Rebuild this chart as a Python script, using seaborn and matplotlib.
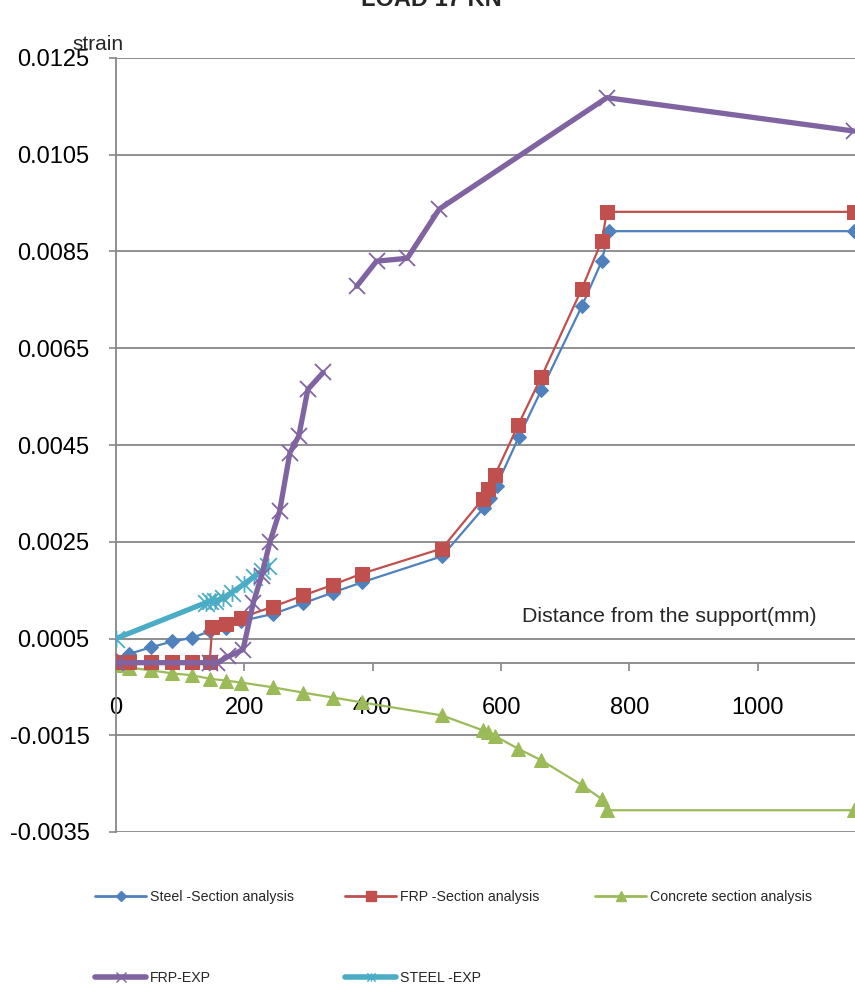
import numpy as np
import pandas as pd
import matplotlib
matplotlib.use("Agg")
import matplotlib.pyplot as plt
import seaborn as sns
from matplotlib.lines import Line2D
from matplotlib.path import Path

# ---------------- data ----------------
steel_x = [0, 20, 55, 88, 118, 146, 171, 195, 245, 292, 338, 383,
           508, 573, 583, 593, 628, 663, 726, 757, 768, 1150]
steel_y = [0.00005, 0.00018, 0.00032, 0.00044, 0.00051, 0.00065, 0.00072, 0.00086,
           0.00101, 0.00123, 0.00145, 0.00166,
           0.0022, 0.0032, 0.0034, 0.00366, 0.00467, 0.00564, 0.00737, 0.0083, 0.00892, 0.00892]

frp_x = [0, 20, 55, 88, 118, 146, 150, 171, 195, 245, 292, 338, 383,
         508, 572, 580, 591, 627, 663, 726, 757, 765, 1150]
frp_y = [0.00002, 0.00002, 0.00002, 0.00002, 0.00002, 0.00002,
         0.00073, 0.00081, 0.00093, 0.00116, 0.00139, 0.00161, 0.00184,
         0.00236, 0.00339, 0.0036, 0.00389, 0.00492, 0.00591, 0.00773, 0.00872, 0.00932, 0.00932]

conc_x = [0, 20, 55, 88, 118, 146, 171, 195, 245, 292, 338, 383,
          508, 572, 580, 591, 627, 663, 726, 757, 765, 1150]
conc_y = [-0.00004, -0.0001, -0.00016, -0.00022, -0.00026, -0.00033, -0.00037, -0.00041,
          -0.00051, -0.00062, -0.00072, -0.00082,
          -0.00109, -0.0014, -0.00144, -0.00152, -0.00178, -0.00202, -0.00253, -0.00282,
          -0.00305, -0.00305]

frpexp1_x = [0, 146, 158, 175, 198, 214, 227, 240, 255, 271, 285, 299, 323]
frpexp1_y = [0.0, 0.0, 0.0, 0.00013, 0.00027, 0.00124, 0.0018, 0.0025, 0.00313,
             0.00434, 0.00469, 0.00565, 0.006]
frpexp2_x = [375, 406, 454, 504, 765, 1150]
frpexp2_y = [0.00778, 0.0083, 0.00836, 0.00938, 0.01168, 0.01099]

steelexp_x = [0, 140, 147, 155, 167, 180, 200, 215, 228, 237]
steelexp_y = [0.0005, 0.00124, 0.00127, 0.00128, 0.00133, 0.00145, 0.00163, 0.00178, 0.0019, 0.002]

x_ticks = [0, 200, 400, 600, 800, 1000]
y_ticks = [-0.0035, -0.0015, 0.0005, 0.0025, 0.0045, 0.0065, 0.0085, 0.0105, 0.0125]

labels = ["Steel -Section analysis", "FRP -Section analysis", "Concrete section analysis",
          "FRP-EXP", "STEEL -EXP"]

# ---------------- style ----------------
sns.set_theme(style="white")
plt.rcParams["font.family"] = ["Liberation Sans", "DejaVu Sans"]

C_BLUE = "#4F81BD"
C_RED = "#C0504D"
C_GREEN = "#9BBB59"
C_PURPLE = "#8064A2"
C_CYAN = "#4BACC6"
GRID = "#878787"

# Excel-style star marker: an X with a vertical bar
STAR = Path([(-1, -1), (1, 1), (-1, 1), (1, -1), (0, -1), (0, 1)],
            [Path.MOVETO, Path.LINETO, Path.MOVETO, Path.LINETO, Path.MOVETO, Path.LINETO])

fig = plt.figure(figsize=(8.55, 9.86), dpi=100)
ax = fig.add_axes([116 / 855, 1 - 832 / 986, 770 / 855, 774 / 986])

df_steel = pd.DataFrame({"x": steel_x, "y": steel_y})
df_frp = pd.DataFrame({"x": frp_x, "y": frp_y})
df_conc = pd.DataFrame({"x": conc_x, "y": conc_y})
df_fexp = pd.concat([
    pd.DataFrame({"x": frpexp1_x, "y": frpexp1_y, "seg": 1}),
    pd.DataFrame({"x": frpexp2_x, "y": frpexp2_y, "seg": 2}),
])
df_sexp = pd.DataFrame({"x": steelexp_x, "y": steelexp_y})

sns.lineplot(data=df_steel, x="x", y="y", ax=ax, sort=False, estimator=None, color=C_BLUE,
             lw=1.6, marker="D", markersize=7.5, markeredgecolor=C_BLUE, legend=False, zorder=3)
sns.lineplot(data=df_frp, x="x", y="y", ax=ax, sort=False, estimator=None, color=C_RED,
             lw=1.6, marker="s", markersize=9.5, markeredgecolor=C_RED, legend=False, zorder=4)
sns.lineplot(data=df_conc, x="x", y="y", ax=ax, sort=False, estimator=None, color=C_GREEN,
             lw=1.6, marker="^", markersize=10, markeredgecolor=C_GREEN, legend=False, zorder=3)
sns.lineplot(data=df_sexp, x="x", y="y", ax=ax, sort=False, estimator=None, color=C_CYAN,
             lw=3.8, marker=STAR, markersize=12, markeredgewidth=1.3,
             markeredgecolor=C_CYAN, legend=False, zorder=5)
sns.lineplot(data=df_fexp, x="x", y="y", units="seg", ax=ax, sort=False, estimator=None,
             color=C_PURPLE, lw=3.8, marker="x", markersize=12, markeredgewidth=1.3,
             markeredgecolor=C_PURPLE, legend=False, zorder=6)

ax.set_xlim(0, 1200)
ax.set_ylim(-0.0035, 0.0125)
ax.set_xticks(x_ticks)
ax.set_xticklabels([str(v) for v in x_ticks])
ax.set_yticks(y_ticks)
ax.set_yticklabels([f"{v:.4f}" for v in y_ticks])
ax.set_xlabel("")
ax.set_ylabel("")

ax.yaxis.grid(True, color=GRID, lw=1.3)
ax.xaxis.grid(False)
ax.set_axisbelow(True)
for s in ["top", "right"]:
    ax.spines[s].set_visible(False)
ax.spines["left"].set_color(GRID)
ax.spines["left"].set_linewidth(1.3)
ax.spines["bottom"].set_position(("data", 0))
ax.spines["bottom"].set_color(GRID)
ax.spines["bottom"].set_linewidth(1.3)

ax.tick_params(axis="y", which="both", left=True, length=5, width=1.2, color=GRID,
               direction="out", pad=14, labelsize=17, labelcolor="black")
ax.tick_params(axis="x", which="both", bottom=True, length=6, width=1.2, color=GRID,
               direction="out", pad=19, labelsize=17, labelcolor="black")

# axis titles and chart title
fig.text(522 / 855, 1 - 617 / 986, "Distance from the support(mm)",
         fontsize=15.4, ha="left", va="center", zorder=7)
fig.text(98 / 855, 1 - 44 / 986, "strain", fontsize=15, ha="center", va="center")
fig.text(431 / 855, 1 - 6 / 986, "LOAD 17 KN", fontsize=17, weight="bold",
         ha="center", va="baseline")

# legend entries
handles = [
    Line2D([], [], color=C_BLUE, lw=2, marker="D", markersize=5, markeredgecolor=C_BLUE),
    Line2D([], [], color=C_RED, lw=2, marker="s", markersize=7, markeredgecolor=C_RED),
    Line2D([], [], color=C_GREEN, lw=2, marker="^", markersize=7, markeredgecolor=C_GREEN),
    Line2D([], [], color=C_PURPLE, lw=4, marker="x", markersize=7, markeredgewidth=1, markeredgecolor=C_PURPLE),
    Line2D([], [], color=C_CYAN, lw=4, marker=STAR, markersize=6, markeredgewidth=1, markeredgecolor=C_CYAN),
]
positions = [(95, 897), (345, 897), (595, 897), (95, 978), (345, 978)]
for h, lab, (px, py) in zip(handles, labels, positions):
    fig.legend(handles=[h], labels=[lab], loc="center left",
               bbox_to_anchor=(px / 855, 1 - py / 986), frameon=False,
               borderpad=0, borderaxespad=0, handlelength=3.6, handletextpad=0.3,
               fontsize=10.2)

fig.savefig("out.png", dpi=100)
